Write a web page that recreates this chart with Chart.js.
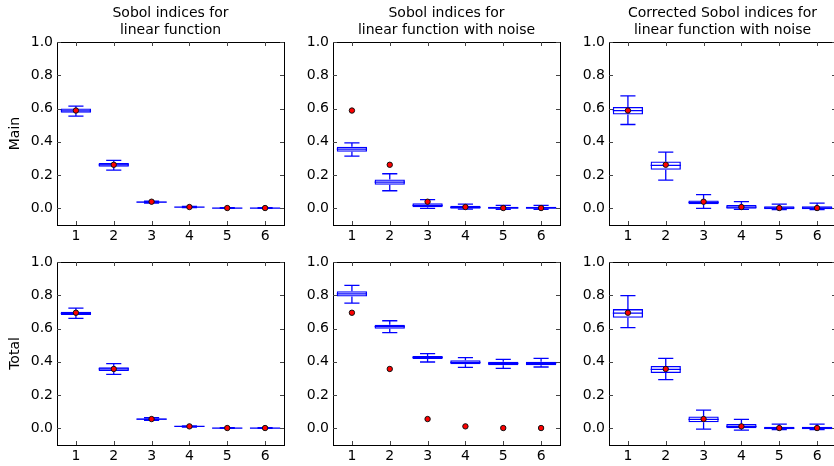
<!DOCTYPE html>
<html>
<head>
<meta charset="utf-8">
<script src="https://cdn.jsdelivr.net/npm/chart.js"></script>
<style>
  html, body { margin: 0; padding: 0; background: #fff; overflow: hidden; width: 834px; height: 466px; }
  canvas { position: absolute; }
</style>
</head>
<body>
<canvas id="c1" style="left:0px;top:0px"></canvas>
<canvas id="c2" style="left:288px;top:0px"></canvas>
<canvas id="c3" style="left:564px;top:0px"></canvas>
<canvas id="c4" style="left:0px;top:245px"></canvas>
<canvas id="c5" style="left:288px;top:245px"></canvas>
<canvas id="c6" style="left:564px;top:245px"></canvas>
<script>
// categories + ticks
const cats = ['1', '2', '3', '4', '5', '6'];
const yTicks = [0.0, 0.2, 0.4, 0.6, 0.8, 1.0];

// red dots: reference values
const trueMain = [0.588, 0.262, 0.040, 0.008, 0.002, 0.002];
const trueTotal = [0.695, 0.357, 0.056, 0.012, 0.002, 0.002];

// Main, linear function
const minA = [0.554, 0.230, 0.032, 0.004, 0.000, 0.000];
const q1A  = [0.574, 0.250, 0.035, 0.006, 0.001, 0.001];
const medA = [0.586, 0.262, 0.038, 0.008, 0.002, 0.002];
const q3A  = [0.600, 0.272, 0.041, 0.010, 0.003, 0.003];
const maxA = [0.614, 0.288, 0.044, 0.012, 0.004, 0.004];

// Main, with noise
const minB = [0.314, 0.106, 0.000, -0.004, -0.006, -0.006];
const q1B  = [0.340, 0.142, 0.007, -0.002, -0.003, -0.003];
const medB = [0.356, 0.158, 0.018, 0.006, 0.003, 0.003];
const q3B  = [0.370, 0.174, 0.031, 0.015, 0.010, 0.010];
const maxB = [0.394, 0.208, 0.052, 0.026, 0.018, 0.018];

// Main, corrected
const minC = [0.504, 0.170, 0.000, -0.006, -0.008, -0.008];
const q1C  = [0.564, 0.232, 0.024, -0.002, -0.005, -0.005];
const medC = [0.588, 0.258, 0.036, 0.008, 0.003, 0.003];
const q3C  = [0.610, 0.282, 0.048, 0.020, 0.013, 0.013];
const maxC = [0.676, 0.338, 0.082, 0.040, 0.026, 0.032];

// Total, linear function
const minD = [0.661, 0.325, 0.048, 0.008, 0.000, 0.000];
const q1D  = [0.681, 0.345, 0.052, 0.010, 0.001, 0.001];
const medD = [0.691, 0.357, 0.056, 0.012, 0.002, 0.002];
const q3D  = [0.701, 0.367, 0.060, 0.013, 0.003, 0.003];
const maxD = [0.723, 0.389, 0.064, 0.015, 0.004, 0.004];

// Total, with noise
const minE = [0.753, 0.575, 0.399, 0.367, 0.361, 0.369];
const q1E  = [0.792, 0.599, 0.417, 0.385, 0.379, 0.379];
const medE = [0.808, 0.611, 0.427, 0.397, 0.391, 0.391];
const q3E  = [0.824, 0.623, 0.435, 0.409, 0.401, 0.401];
const maxE = [0.860, 0.647, 0.449, 0.425, 0.415, 0.421];

// Total, corrected
const minF = [0.605, 0.293, -0.004, -0.010, -0.008, -0.008];
const q1F  = [0.665, 0.333, 0.036, 0.000, -0.006, -0.006];
const medF = [0.693, 0.355, 0.054, 0.012, 0.002, 0.002];
const q3F  = [0.717, 0.375, 0.072, 0.026, 0.010, 0.010];
const maxF = [0.798, 0.421, 0.110, 0.054, 0.026, 0.026];

const BLUE = '#0000ff';
const FONT = "'DejaVu Sans', sans-serif";

// whiskers, caps and median lines (drawn under the boxes and dots)
const whiskerPlugin = {
  id: 'whiskers',
  beforeDatasetsDraw(chart) {
    const ds = chart.data.datasets[0];
    const meta = chart.getDatasetMeta(0);
    const x = chart.scales.x, y = chart.scales.y;
    const ctx = chart.ctx;
    ctx.save();
    ctx.strokeStyle = BLUE;
    ctx.lineWidth = 1.3;
    ds.stats.med.forEach((m, i) => {
      const px = x.getPixelForValue(i);
      const w = meta.data[i].width;
      const cap = w / 4;
      const yMin = y.getPixelForValue(ds.stats.min[i]);
      const yMax = y.getPixelForValue(ds.stats.max[i]);
      const yQ1 = y.getPixelForValue(ds.data[i][0]);
      const yQ3 = y.getPixelForValue(ds.data[i][1]);
      const yMed = y.getPixelForValue(m);
      ctx.beginPath();
      ctx.moveTo(px, yQ3); ctx.lineTo(px, yMax);
      ctx.moveTo(px, yQ1); ctx.lineTo(px, yMin);
      ctx.moveTo(px - cap, yMax); ctx.lineTo(px + cap, yMax);
      ctx.moveTo(px - cap, yMin); ctx.lineTo(px + cap, yMin);
      ctx.moveTo(px - w / 2, yMed); ctx.lineTo(px + w / 2, yMed);
      ctx.stroke();
    });
    ctx.restore();
  },
  // frame + inward ticks like matplotlib classic
  afterDraw(chart) {
    const a = chart.chartArea;
    const x = chart.scales.x, y = chart.scales.y;
    const ctx = chart.ctx;
    ctx.save();
    ctx.strokeStyle = '#000';
    ctx.lineWidth = 1;
    ctx.strokeRect(Math.round(a.left) + 0.5, Math.round(a.top) + 0.5, Math.round(a.right - a.left), Math.round(a.bottom - a.top));
    ctx.strokeStyle = '#444';
    ctx.beginPath();
    yTicks.forEach(v => {
      const py = Math.round(y.getPixelForValue(v)) + 0.5;
      ctx.moveTo(a.left, py); ctx.lineTo(a.left + 4, py);
      ctx.moveTo(a.right, py); ctx.lineTo(a.right - 4, py);
    });
    cats.forEach((c, i) => {
      const px = Math.round(x.getPixelForValue(i)) + 0.5;
      ctx.moveTo(px, a.bottom); ctx.lineTo(px, a.bottom - 4);
      ctx.moveTo(px, a.top); ctx.lineTo(px, a.top + 4);
    });
    ctx.stroke();
    ctx.restore();
  }
};

function makePanel(id, p) {
  const canvas = document.getElementById(id);
  canvas.width = p.width;
  canvas.height = p.height;
  canvas.style.width = p.width + 'px';
  canvas.style.height = p.height + 'px';

  new Chart(canvas.getContext('2d'), {
    type: 'bar',
    data: {
      labels: cats,
      datasets: [{
        type: 'bar',
        data: p.q1.map((v, i) => [v, p.q3[i]]),
        stats: { min: p.min, med: p.med, max: p.max },
        backgroundColor: 'rgba(0,0,0,0)',
        borderColor: BLUE,
        borderWidth: 1.3,
        borderSkipped: false,
        barPercentage: 0.8,
        categoryPercentage: 1.0,
        order: 1
      }, {
        type: 'line',
        data: p.truth,
        showLine: false,
        pointRadius: 2.7,
        pointBackgroundColor: '#ff0000',
        pointBorderColor: '#111',
        pointBorderWidth: 1,
        order: 0
      }]
    },
    options: {
      responsive: false,
      animation: false,
      devicePixelRatio: 1,
      layout: { padding: { top: p.padTop, right: 2, left: 0, bottom: 0 } },
      plugins: {
        legend: { display: false },
        tooltip: { enabled: false },
        title: {
          display: !!p.title,
          text: p.title || '',
          fullSize: false,
          color: '#000',
          font: { family: FONT, size: 14, weight: 'normal', lineHeight: 1.2 },
          padding: { top: 5, bottom: 3.4 }
        }
      },
      scales: {
        x: {
          type: 'category',
          grid: { display: false, drawTicks: false },
          border: { display: false },
          ticks: { color: '#000', font: { family: FONT, size: 14 }, padding: 3, maxRotation: 0 },
          afterFit: s => { s.height = p.xHeight; }
        },
        y: {
          min: -0.1,
          max: 1.0,
          grid: { display: false, drawTicks: false },
          border: { display: false },
          ticks: { color: '#000', font: { family: FONT, size: 14 }, padding: 4, callback: v => v.toFixed(1) },
          afterBuildTicks: s => { s.ticks = yTicks.map(v => ({ value: v })); },
          title: {
            display: !!p.ylabel,
            text: p.ylabel || '',
            color: '#000',
            font: { family: FONT, size: 14 },
            padding: { top: 7, bottom: 0 }
          },
          afterFit: s => { s.width = p.yWidth; }
        }
      }
    },
    plugins: [whiskerPlugin]
  });
}

const topRow = { height: 247, padTop: 0, xHeight: 22 };
const botRow = { height: 221, padTop: 17, xHeight: 21 };

makePanel('c1', Object.assign({}, topRow, { width: 289, yWidth: 57, title: ['Sobol indices for', 'linear function'], ylabel: 'Main',
  min: minA, q1: q1A, med: medA, q3: q3A, max: maxA, truth: trueMain }));
makePanel('c2', Object.assign({}, topRow, { width: 277, yWidth: 45, title: ['Sobol indices for', 'linear function with noise'],
  min: minB, q1: q1B, med: medB, q3: q3B, max: maxB, truth: trueMain }));
makePanel('c3', Object.assign({}, topRow, { width: 277, yWidth: 45, title: ['Corrected Sobol indices for', 'linear function with noise'],
  min: minC, q1: q1C, med: medC, q3: q3C, max: maxC, truth: trueMain }));
makePanel('c4', Object.assign({}, botRow, { width: 289, yWidth: 57, ylabel: 'Total',
  min: minD, q1: q1D, med: medD, q3: q3D, max: maxD, truth: trueTotal }));
makePanel('c5', Object.assign({}, botRow, { width: 277, yWidth: 45,
  min: minE, q1: q1E, med: medE, q3: q3E, max: maxE, truth: trueTotal }));
makePanel('c6', Object.assign({}, botRow, { width: 277, yWidth: 45,
  min: minF, q1: q1F, med: medF, q3: q3F, max: maxF, truth: trueTotal }));
</script>
</body>
</html>
